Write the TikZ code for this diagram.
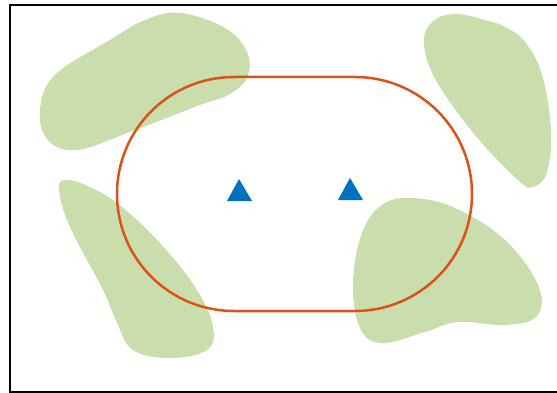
\documentclass[tikz,border=0pt]{standalone}
\definecolor{blobgreen}{HTML}{C9DEAC}
\definecolor{pathorange}{HTML}{D95319}
\definecolor{markblue}{HTML}{0072BD}
\tikzset{
  blob/.style={fill=blobgreen, draw=none},
  track/.style={draw=pathorange, line width=2.5pt},
  marker/.style={fill=markblue, draw=none},
  frame/.style={draw=black, line width=2.5pt}
}
\begin{document}
\begin{tikzpicture}[x=1pt,y=-1pt]
\useasboundingbox (0,0) rectangle (557,393);
% frame
\draw[frame] (10,5) rectangle (575,392);
% blobs
\fill[blob] plot[smooth cycle, tension=0.65] coordinates {(180,13) (225,28) (247,52) (247,78) (228,95) (200,105) (130,132) (77,150) (48,140) (40,110) (55,75) (110,40) (145,20)};
\fill[blob] plot[smooth cycle, tension=0.65] coordinates {(455,14) (485,20) (505,27) (525,42) (542,75) (551,130) (547,172) (533,187) (518,180) (475,135) (437,82) (424,45) (432,22)};
\fill[blob] plot[smooth cycle, tension=0.65] coordinates {(65,180) (85,185) (117,203) (160,243) (197,290) (213,327) (207,350) (170,358) (133,350) (117,323) (103,290) (70,227) (59,190)};
\fill[blob] plot[smooth cycle, tension=0.65] coordinates {(412,198) (455,208) (505,240) (538,285) (537,316) (505,325) (458,322) (425,332) (382,343) (360,328) (353,283) (362,233) (382,205)};
% track
\draw[track] (234,77) -- (355,77) arc[start angle=90, end angle=-90, radius=117pt] -- (234,311) arc[start angle=270, end angle=90, radius=117pt] -- cycle;
% markers
\fill[marker] (239,179) -- (252,201) -- (227,201) -- cycle;
\fill[marker] (350,178) -- (363,200) -- (338,200) -- cycle;
\end{tikzpicture}
\end{document}
